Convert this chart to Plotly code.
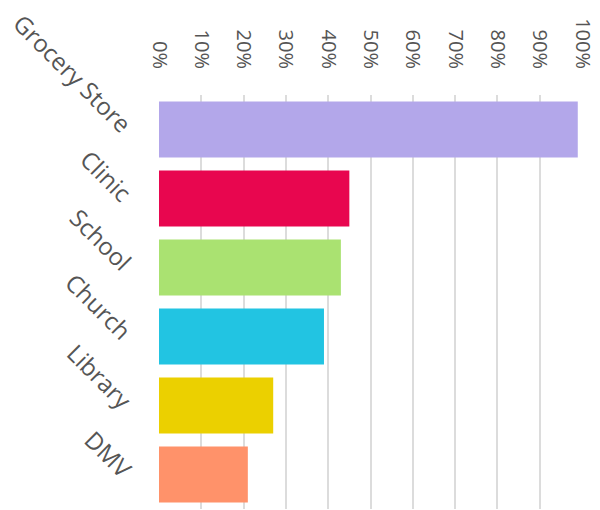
import plotly.graph_objects as go

categories = ["Grocery Store", "Clinic", "School", "Church", "Library", "DMV"]
values = [99, 45, 43, 39, 27, 21]
colors = ["#b3a7ea", "#e8064f", "#aae271", "#22c4e2", "#ebd000", "#ff926a"]
tick_vals = [0, 10, 20, 30, 40, 50, 60, 70, 80, 90, 100]
tick_text = [f"{v}%" for v in tick_vals]

fig = go.Figure(
    go.Bar(
        x=values,
        y=categories,
        orientation="h",
        marker=dict(color=colors, line=dict(width=0)),
    )
)

# page body adds an 8px offset, so the figure is sized to fill the rest
fig.update_layout(
    width=592,
    height=502,
    margin=dict(l=151, r=18, t=87, b=1),
    paper_bgcolor="white",
    plot_bgcolor="white",
    bargap=0.19,
    showlegend=False,
    font=dict(family="Open Sans", color="#555555"),
)

fig.update_xaxes(
    side="top",
    range=[0, 100],
    tickvals=tick_vals,
    ticktext=tick_text,
    tickangle=90,
    tickfont=dict(size=20, color="#555555"),
    showgrid=True,
    gridcolor="#dcdcdc",
    gridwidth=1.5,
    zeroline=False,
    showline=False,
    ticks="",
    ticklabelstandoff=22,
    automargin=False,
)

fig.update_yaxes(
    categoryorder="array",
    categoryarray=categories,
    autorange="reversed",
    tickangle=45,
    tickfont=dict(size=24, color="#555555"),
    showgrid=False,
    zeroline=False,
    showline=False,
    ticks="",
    ticklabelstandoff=29,
    automargin=False,
)

fig.write_html("out.html")
